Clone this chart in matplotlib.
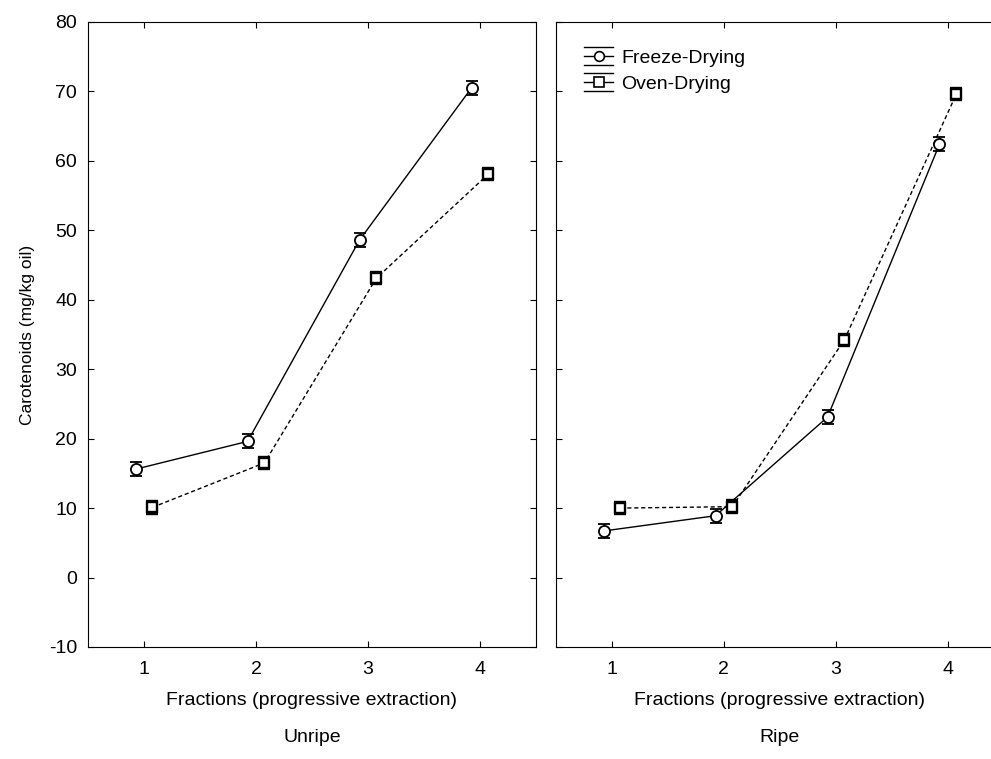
import numpy as np
import matplotlib
matplotlib.use("Agg")
import matplotlib.pyplot as plt
from matplotlib.legend_handler import HandlerBase
from matplotlib.lines import Line2D

plt.rcParams['font.family'] = ['Liberation Sans', 'DejaVu Sans']
plt.rcParams['axes.unicode_minus'] = False

fractions = [1, 2, 3, 4]
panels = ["Unripe", "Ripe"]
freeze = {"Unripe": [15.6, 19.6, 48.6, 70.5], "Ripe": [6.7, 8.9, 23.1, 62.4]}
oven = {"Unripe": [10.1, 16.5, 43.1, 58.1], "Ripe": [10.0, 10.2, 34.2, 69.6]}
freeze_err = {"Unripe": [1.0, 1.0, 1.0, 1.0], "Ripe": [1.0, 1.0, 1.0, 1.0]}
oven_err = {"Unripe": [0.9, 0.9, 0.9, 0.9], "Ripe": [0.9, 0.9, 0.9, 0.9]}
yticks = [-10, 0, 10, 20, 30, 40, 50, 60, 70, 80]


class ErrHandler(HandlerBase):
    # legend key: marker on line with full-width bars above and below
    def __init__(self, marker, ms):
        super().__init__()
        self.marker, self.ms = marker, ms

    def create_artists(self, legend, orig, xd, yd, w, h, fs, trans):
        cy = h / 2 - yd
        x0, x1 = -xd, -xd + w
        mid = Line2D([x0, x1], [cy, cy], color="black", lw=1, transform=trans)
        mk = Line2D([(x0 + x1) / 2], [cy], color="black", marker=self.marker,
                    ms=self.ms, mfc="white", mew=1.2, ls="none", transform=trans)
        top = Line2D([x0, x1], [cy + h * 0.65] * 2, color="black", lw=1, transform=trans)
        bot = Line2D([x0, x1], [cy - h * 0.65] * 2, color="black", lw=1, transform=trans)
        return [mid, top, bot, mk]


fig = plt.figure(figsize=(9.91, 7.59), dpi=100)
ax1 = fig.add_axes([0.0888, 0.1476, 0.452, 0.8235])
ax2 = fig.add_axes([0.561, 0.1476, 0.452, 0.8235], sharey=ax1)

x = np.array(fractions, dtype=float)
off = 0.075
for ax, name in zip([ax1, ax2], panels):
    ax.errorbar(x - off, freeze[name], yerr=freeze_err[name], color="black",
                linestyle="-", linewidth=1, marker="o", markersize=8,
                markerfacecolor="white", markeredgewidth=1.3,
                capsize=4.3, elinewidth=1)
    ax.errorbar(x + off, oven[name], yerr=oven_err[name], color="black",
                linestyle=(0, (3, 2)), linewidth=1, marker="s", markersize=7,
                markerfacecolor="white", markeredgewidth=1.7,
                capsize=4.3, elinewidth=1)
    ax.set_xlim(0.5, 4.5)
    ax.set_ylim(-10, 80)
    ax.set_xticks(fractions)
    ax.set_yticks(yticks)
    ax.tick_params(direction="in", length=4, top=True, right=True, labelsize=14)
    ax.tick_params(axis="y", pad=8)
    ax.tick_params(axis="x", pad=10)
    ax.set_xlabel("Fractions (progressive extraction)", fontsize=14, labelpad=10)
    ax.text(0.5, -0.145, name, transform=ax.transAxes, ha="center", va="center",
            fontsize=14)

ax1.set_ylabel("Carotenoids (mg/kg oil)", fontsize=12.5, labelpad=10)
ax2.tick_params(labelleft=False)

h1 = Line2D([], [], color="black")
h2 = Line2D([], [], color="black")
ax2.legend([h1, h2], ["Freeze-Drying", "Oven-Drying"],
           handler_map={h1: ErrHandler("o", 7), h2: ErrHandler("s", 6.5)},
           loc="upper left", frameon=False, fontsize=14, handlelength=1.5,
           handletextpad=0.4, labelspacing=0.45, borderpad=0,
           bbox_to_anchor=(0.041, 0.972))

plt.savefig("out.png", dpi=100)
